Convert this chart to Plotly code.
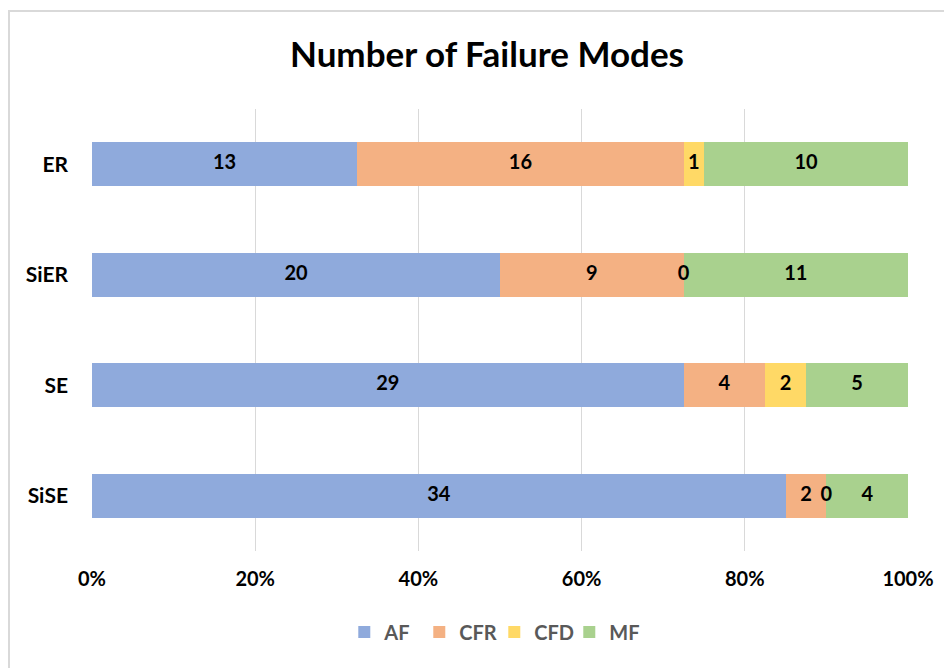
import plotly.graph_objects as go

categories = ["ER", "SiER", "SE", "SiSE"]
series_names = ["AF", "CFR", "CFD", "MF"]
af = [13, 20, 29, 34]
cfr = [16, 9, 4, 2]
cfd = [1, 0, 2, 0]
mf = [10, 11, 5, 4]
tick_vals = [0, 20, 40, 60, 80, 100]
tick_text = ["0%", "20%", "40%", "60%", "80%", "100%"]

colors = ["#8faadc", "#f4b183", "#ffd966", "#a9d18e"]
series = [af, cfr, cfd, mf]
totals = [sum(s[i] for s in series) for i in range(len(categories))]

FONT = "Lato, 'Open Sans', sans-serif"
W, H = 944, 660
fig = go.Figure()
for name, vals, col in zip(series_names, series, colors):
    pct = [v / t * 100 for v, t in zip(vals, totals)]
    fig.add_trace(go.Bar(
        y=categories, x=pct, name=name, orientation="h",
        marker=dict(color=col, line=dict(width=0)),
        width=0.4, hoverinfo="skip",
    ))

# data labels at segment centres (computed from data)
lx, ly, lt = [], [], []
for i, cat in enumerate(categories):
    cum = 0.0
    for vals in series:
        p = vals[i] / totals[i] * 100
        lx.append(cum + p / 2)
        ly.append(cat)
        lt.append(str(vals[i]))
        cum += p
fig.add_trace(go.Scatter(
    x=lx, y=ly, text=lt, mode="text", showlegend=False, hoverinfo="skip",
    textposition="middle center",
    textfont=dict(family=FONT, size=20, color="#000000", weight="bold"),
))

fig.update_layout(
    barmode="stack",
    width=W, height=H,
    margin=dict(l=84, r=44, t=101, b=117),
    paper_bgcolor="white", plot_bgcolor="white",
    title=dict(text="<b>Number of Failure Modes</b>", x=479 / W, xanchor="center",
               y=1 - 47 / H, yanchor="middle",
               font=dict(family=FONT, size=35, color="#000000")),
    xaxis=dict(range=[0, 100], tickvals=tick_vals, ticktext=tick_text,
               showgrid=True, gridcolor="#d9d9d9", gridwidth=1.3,
               zeroline=False, showline=False, ticks="",
               ticklabelstandoff=14,
               tickfont=dict(family=FONT, size=20, color="#000000", weight="bold"),
               fixedrange=True),
    yaxis=dict(categoryorder="array", categoryarray=categories[::-1],
               range=[-0.5, 3.5], showgrid=False, zeroline=False, ticks="",
               ticklabelstandoff=23,
               tickfont=dict(family=FONT, size=21, color="#000000", weight="bold")),
    legend=dict(orientation="h", x=0.493, xanchor="center", y=(551 - 632) / 442,
                yanchor="middle", traceorder="normal",
                font=dict(family=FONT, size=20, color="#595959", weight="bold"),
                itemwidth=30, tracegroupgap=0, entrywidth=30),
    shapes=[dict(type="rect", xref="paper", yref="paper",
                 x0=(9 - 92) / 816, x1=1.2, y0=-0.5, y1=(551 - 11) / 442,
                 line=dict(color="#d9d9d9", width=2), fillcolor="rgba(0,0,0,0)",
                 layer="below")],
)

fig.write_html("out.html")
